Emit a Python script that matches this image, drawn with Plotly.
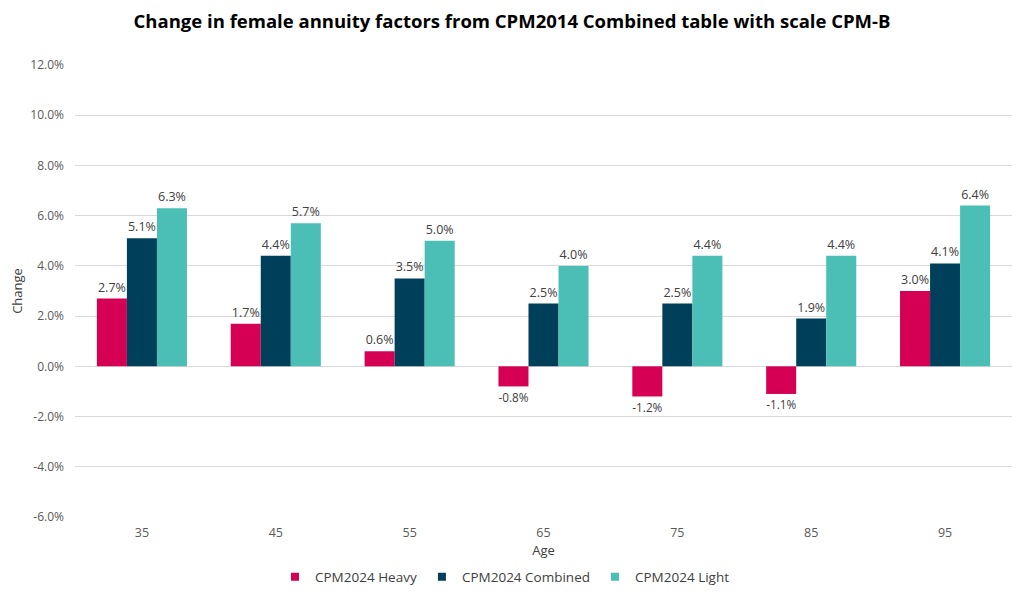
import plotly.graph_objects as go

ages = ["35", "45", "55", "65", "75", "85", "95"]
heavy = [2.7, 1.7, 0.6, -0.8, -1.2, -1.1, 3.0]
combined = [5.1, 4.4, 3.5, 2.5, 2.5, 1.9, 4.1]
light = [6.3, 5.7, 5.0, 4.0, 4.4, 4.4, 6.4]
series_names = ["CPM2024 Heavy", "CPM2024 Combined", "CPM2024 Light"]
colors = ["#D50054", "#003F5A", "#4BBFB5"]
y_ticks = [-6, -4, -2, 0, 2, 4, 6, 8, 10, 12]

FONT = "Open Sans"
OFF = 8  # page body margin
W, H = 1024 - OFF, 597 - OFF
L, T = 75 - OFF, 65 - OFF
R = W - (1012 - OFF)
B = H - (517 - OFF)
PW, PH = W - L - R, H - T - B


def px_to_paper_y(page_y):
    return (T + PH - (page_y - OFF)) / PH


def px_to_paper_x(page_x):
    return (page_x - OFF - L) / PW


fig = go.Figure()
for name, vals, col in zip(series_names, [heavy, combined, light], colors):
    fig.add_trace(go.Bar(
        x=ages, y=[v / 100 for v in vals], name=name, showlegend=False,
        marker=dict(color=col, line=dict(width=0)),
        text=[f"{v:.1f}%" for v in vals], texttemplate="%{text}",
        textposition="outside", cliponaxis=False,
        textfont=dict(family=FONT, size=12.5, color="#404040"),
    ))
# legend entries with small square markers
for name, col in zip(series_names, colors):
    fig.add_trace(go.Scatter(
        x=[None], y=[None], mode="markers", name=name,
        marker=dict(symbol="square", size=8, color=col),
    ))

fig.update_layout(
    width=W, height=H,
    paper_bgcolor="white", plot_bgcolor="white",
    margin=dict(l=L, r=R, t=T, b=B, autoexpand=False),
    barmode="group", bargap=0.327, bargroupgap=0,
    title=dict(text="<b>Change in female annuity factors from CPM2014 Combined table with scale CPM-B</b>",
               x=(512 - OFF) / W, xanchor="center", y=1 - (22 - OFF) / H, yanchor="middle",
               font=dict(family=FONT, size=18.5, color="#000000")),
    font=dict(family=FONT, size=12, color="#595959"),
    legend=dict(orientation="h", x=px_to_paper_x(505), xanchor="center",
                y=px_to_paper_y(577), yanchor="middle",
                font=dict(family=FONT, size=13.5, color="#404040"), traceorder="normal",
                itemwidth=30, tracegroupgap=0),
    showlegend=True,
)
fig.update_yaxes(range=[-0.06, 0.12], tickvals=[t / 100 for t in y_ticks],
                 ticktext=[f"{t:.1f}%" for t in y_ticks],
                 showgrid=True, gridcolor="#D9D9D9", gridwidth=1,
                 zeroline=True, zerolinecolor="#D9D9D9", zerolinewidth=1,
                 showline=False, ticks="", ticklabelstandoff=10, automargin=False,
                 title=dict(text="Change", font=dict(family=FONT, size=13, color="#404040"), standoff=12),
                 tickfont=dict(family=FONT, size=12, color="#595959"))
fig.update_xaxes(showgrid=False, showline=False, ticks="", automargin=False,
                 ticklabelstandoff=6,
                 title=dict(text="Age", font=dict(family=FONT, size=13, color="#404040"), standoff=6),
                 tickfont=dict(family=FONT, size=12.5, color="#595959"))
fig.write_html("out.html")
